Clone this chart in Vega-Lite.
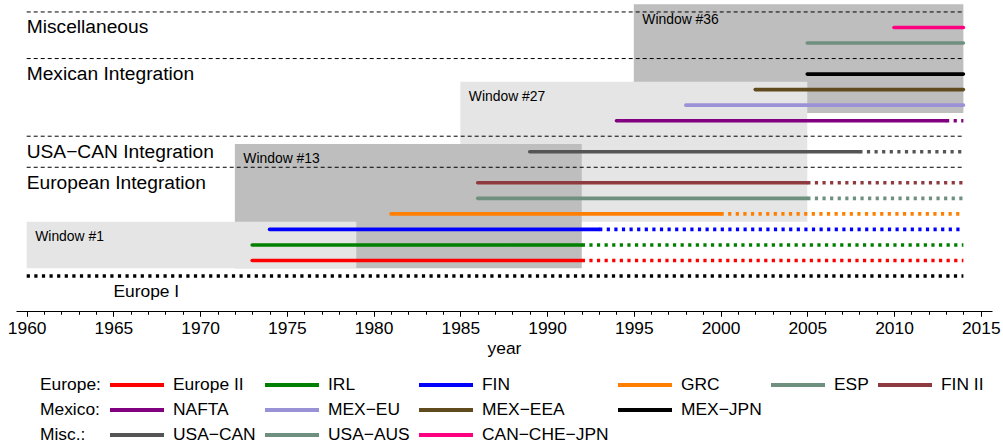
{
  "$schema": "https://vega.github.io/schema/vega-lite/v6.json",
  "width": 976,
  "height": 308,
  "autosize": {"type": "none"},
  "padding": {"left": 16, "top": 0, "right": 11, "bottom": 138},
  "background": "white",
  "config": {
    "view": {"stroke": null},
    "font": "Liberation Sans",
    "text": {"font": "Liberation Sans", "color": "black"}
  },
  "datasets": {
    "windows": [
      {"window": "Window #36", "from": 1995, "to": 2014, "lo": 10.5, "hi": 17.5},
      {"window": "Window #27", "from": 1985, "to": 2005, "lo": 3.5, "hi": 12.5},
      {"window": "Window #13", "from": 1972, "to": 1992, "lo": 0.5, "hi": 8.5},
      {"window": "Window #1", "from": 1960, "to": 1979, "lo": 0.5, "hi": 3.5}
    ],
    "separators": [
      {"row": 7, "from": 1960, "to": 2014},
      {"row": 9, "from": 1960, "to": 2014},
      {"row": 14, "from": 1960, "to": 2014},
      {"row": 17, "from": 1960, "to": 2014}
    ],
    "segments": [
      {"name": "Europe I", "row": 0, "part": "dotted", "from": 1960, "to": 2014},
      {"name": "Europe II", "row": 1, "part": "solid", "from": 1973, "to": 1992},
      {"name": "Europe II", "row": 1, "part": "dotted", "from": 1992, "to": 2014},
      {"name": "IRL", "row": 2, "part": "solid", "from": 1973, "to": 1992},
      {"name": "IRL", "row": 2, "part": "dotted", "from": 1992, "to": 2014},
      {"name": "FIN", "row": 3, "part": "solid", "from": 1974, "to": 1993},
      {"name": "FIN", "row": 3, "part": "dotted", "from": 1993, "to": 2014},
      {"name": "GRC", "row": 4, "part": "solid", "from": 1981, "to": 2000},
      {"name": "GRC", "row": 4, "part": "dotted", "from": 2000, "to": 2014},
      {"name": "ESP", "row": 5, "part": "solid", "from": 1986, "to": 2005},
      {"name": "ESP", "row": 5, "part": "dotted", "from": 2005, "to": 2014},
      {"name": "FIN II", "row": 6, "part": "solid", "from": 1986, "to": 2005},
      {"name": "FIN II", "row": 6, "part": "dotted", "from": 2005, "to": 2014},
      {"name": "USA−CAN", "row": 8, "part": "solid", "from": 1989, "to": 2008},
      {"name": "USA−CAN", "row": 8, "part": "dotted", "from": 2008, "to": 2014},
      {"name": "NAFTA", "row": 10, "part": "solid", "from": 1994, "to": 2013},
      {"name": "NAFTA", "row": 10, "part": "dotted", "from": 2013, "to": 2014},
      {"name": "MEX−EU", "row": 11, "part": "solid", "from": 1998, "to": 2014},
      {"name": "MEX−EEA", "row": 12, "part": "solid", "from": 2002, "to": 2014},
      {"name": "MEX−JPN", "row": 13, "part": "solid", "from": 2005, "to": 2014},
      {"name": "USA−AUS", "row": 15, "part": "solid", "from": 2005, "to": 2014},
      {"name": "CAN−CHE−JPN", "row": 16, "part": "solid", "from": 2010, "to": 2014}
    ],
    "groups": [
      {"label": "Miscellaneous", "row": 16, "from": 1960},
      {"label": "Mexican Integration", "row": 13, "from": 1960},
      {"label": "USA−CAN Integration", "row": 8, "from": 1960},
      {"label": "European Integration", "row": 6, "from": 1960}
    ],
    "notes": [
      {"label": "Europe I", "row": -1, "from": 1965}
    ]
  },
  "encoding": {
    "x": {
      "field": "from",
      "type": "quantitative",
      "scale": {"domain": [1959.383, 2015.65], "nice": false, "zero": false},
      "axis": {
        "values": [1960, 1961, 1962, 1963, 1964, 1965, 1966, 1967, 1968, 1969, 1970, 1971, 1972, 1973, 1974, 1975, 1976, 1977, 1978, 1979, 1980, 1981, 1982, 1983, 1984, 1985, 1986, 1987, 1988, 1989, 1990, 1991, 1992, 1993, 1994, 1995, 1996, 1997, 1998, 1999, 2000, 2001, 2002, 2003, 2004, 2005, 2006, 2007, 2008, 2009, 2010, 2011, 2012, 2013, 2014, 2015],
        "format": "d",
        "labelExpr": "datum.value % 5 === 0 ? datum.label : ''",
        "tickSize": {"condition": {"test": "datum.value % 5 === 0", "value": 5.3}, "value": 3.3},
        "offset": 3,
        "grid": false,
        "domainColor": "black",
        "domainWidth": 1,
        "tickColor": "black",
        "tickWidth": 1,
        "labelColor": "black",
        "labelFont": "Liberation Sans",
        "labelFontSize": 17.4,
        "labelPadding": 3.2,
        "labelFlush": false,
        "labelOverlap": false,
        "title": "year",
        "titleFont": "Liberation Sans",
        "titleFontSize": 17.4,
        "titleFontWeight": "normal",
        "titleColor": "black",
        "titlePadding": 3
      }
    },
    "y": {
      "field": "row",
      "type": "quantitative",
      "scale": {"domain": [-2.06, 17.77], "nice": false, "zero": false},
      "axis": null
    }
  },
  "layer": [
    {
      "data": {"name": "windows"},
      "mark": {"type": "rect"},
      "encoding": {
        "x2": {"field": "to"},
        "y": {"field": "lo", "type": "quantitative", "scale": {"domain": [-2.06, 17.77], "nice": false, "zero": false}, "axis": null},
        "y2": {"field": "hi"},
        "fill": {
          "condition": {"test": "datum.window === 'Window #36' || datum.window === 'Window #13'", "value": "#bebebe"},
          "value": "#e5e5e5"
        }
      }
    },
    {
      "data": {"name": "windows"},
      "mark": {"type": "text", "align": "left", "baseline": "middle", "dx": 8.5, "dy": 15.5, "fontSize": 13.9, "font": "Liberation Sans", "color": "black"},
      "encoding": {
        "y": {"field": "hi", "type": "quantitative", "scale": {"domain": [-2.06, 17.77], "nice": false, "zero": false}, "axis": null},
        "text": {"field": "window"}
      }
    },
    {
      "data": {"name": "separators"},
      "mark": {"type": "rule", "color": "black", "strokeWidth": 1, "strokeDash": [4, 3]},
      "encoding": {
        "x2": {"field": "to"}
      }
    },
    {
      "data": {"name": "segments"},
      "transform": [{"filter": "datum.part === 'solid'"}],
      "mark": {"type": "rule", "strokeWidth": 3.6, "strokeCap": "round"},
      "encoding": {
        "x2": {"field": "to"},
        "color": {
          "field": "name",
          "type": "nominal",
          "scale": {
            "domain": ["Europe:", "Europe II", "IRL", "FIN", "GRC", "ESP", "FIN II", "Mexico:", "NAFTA", "MEX−EU", "MEX−EEA", "MEX−JPN", " ", "  ", "Misc.:", "USA−CAN", "USA−AUS", "CAN−CHE−JPN", "   ", "    ", "     "],
            "range": ["transparent", "#ff0000", "#008000", "#0000ff", "#ff8000", "#70907f", "#8e3a3e", "transparent", "#800080", "#9a92d6", "#5f4b1e", "#000000", "transparent", "transparent", "transparent", "#555555", "#70907f", "#ff0080", "transparent", "transparent", "transparent"]
          },
          "legend": {
            "orient": "none",
            "direction": "horizontal",
            "legendX": -41,
            "legendY": 372.5,
            "columns": 7,
            "title": null,
            "padding": 0,
            "symbolType": "stroke",
            "symbolSize": 2916,
            "symbolStrokeWidth": 4,
            "symbolDash": [],
            "clipHeight": 25,
            "rowPadding": 0,
            "columnPadding": 7,
            "labelOffset": 7,
            "labelFont": "Liberation Sans",
            "labelFontSize": 17.4,
            "labelColor": "black",
            "labelLimit": 300
          }
        }
      }
    },
    {
      "data": {"name": "segments"},
      "transform": [{"filter": "datum.part === 'dotted' && datum.name !== 'Europe I'"}],
      "mark": {"type": "rule", "strokeWidth": 3.6, "strokeCap": "butt", "strokeDash": [3.2, 4.4]},
      "encoding": {
        "x2": {"field": "to"},
        "color": {
          "field": "name",
          "type": "nominal",
          "scale": {
            "domain": ["Europe:", "Europe II", "IRL", "FIN", "GRC", "ESP", "FIN II", "Mexico:", "NAFTA", "MEX−EU", "MEX−EEA", "MEX−JPN", " ", "  ", "Misc.:", "USA−CAN", "USA−AUS", "CAN−CHE−JPN", "   ", "    ", "     "],
            "range": ["transparent", "#ff0000", "#008000", "#0000ff", "#ff8000", "#70907f", "#8e3a3e", "transparent", "#800080", "#9a92d6", "#5f4b1e", "#000000", "transparent", "transparent", "transparent", "#555555", "#70907f", "#ff0080", "transparent", "transparent", "transparent"]
          },
          "legend": null
        }
      }
    },
    {
      "data": {"name": "segments"},
      "transform": [{"filter": "datum.name === 'Europe I'"}],
      "mark": {"type": "rule", "color": "black", "strokeWidth": 3.6, "strokeCap": "butt", "strokeDash": [3.2, 4.4]},
      "encoding": {
        "x2": {"field": "to"}
      }
    },
    {
      "data": {"name": "groups"},
      "mark": {"type": "text", "align": "left", "baseline": "middle", "fontSize": 19.2, "font": "Liberation Sans", "color": "black"},
      "encoding": {
        "text": {"field": "label"}
      }
    },
    {
      "data": {"name": "notes"},
      "mark": {"type": "text", "align": "left", "baseline": "middle", "fontSize": 17.4, "font": "Liberation Sans", "color": "black"},
      "encoding": {
        "text": {"field": "label"}
      }
    }
  ]
}
